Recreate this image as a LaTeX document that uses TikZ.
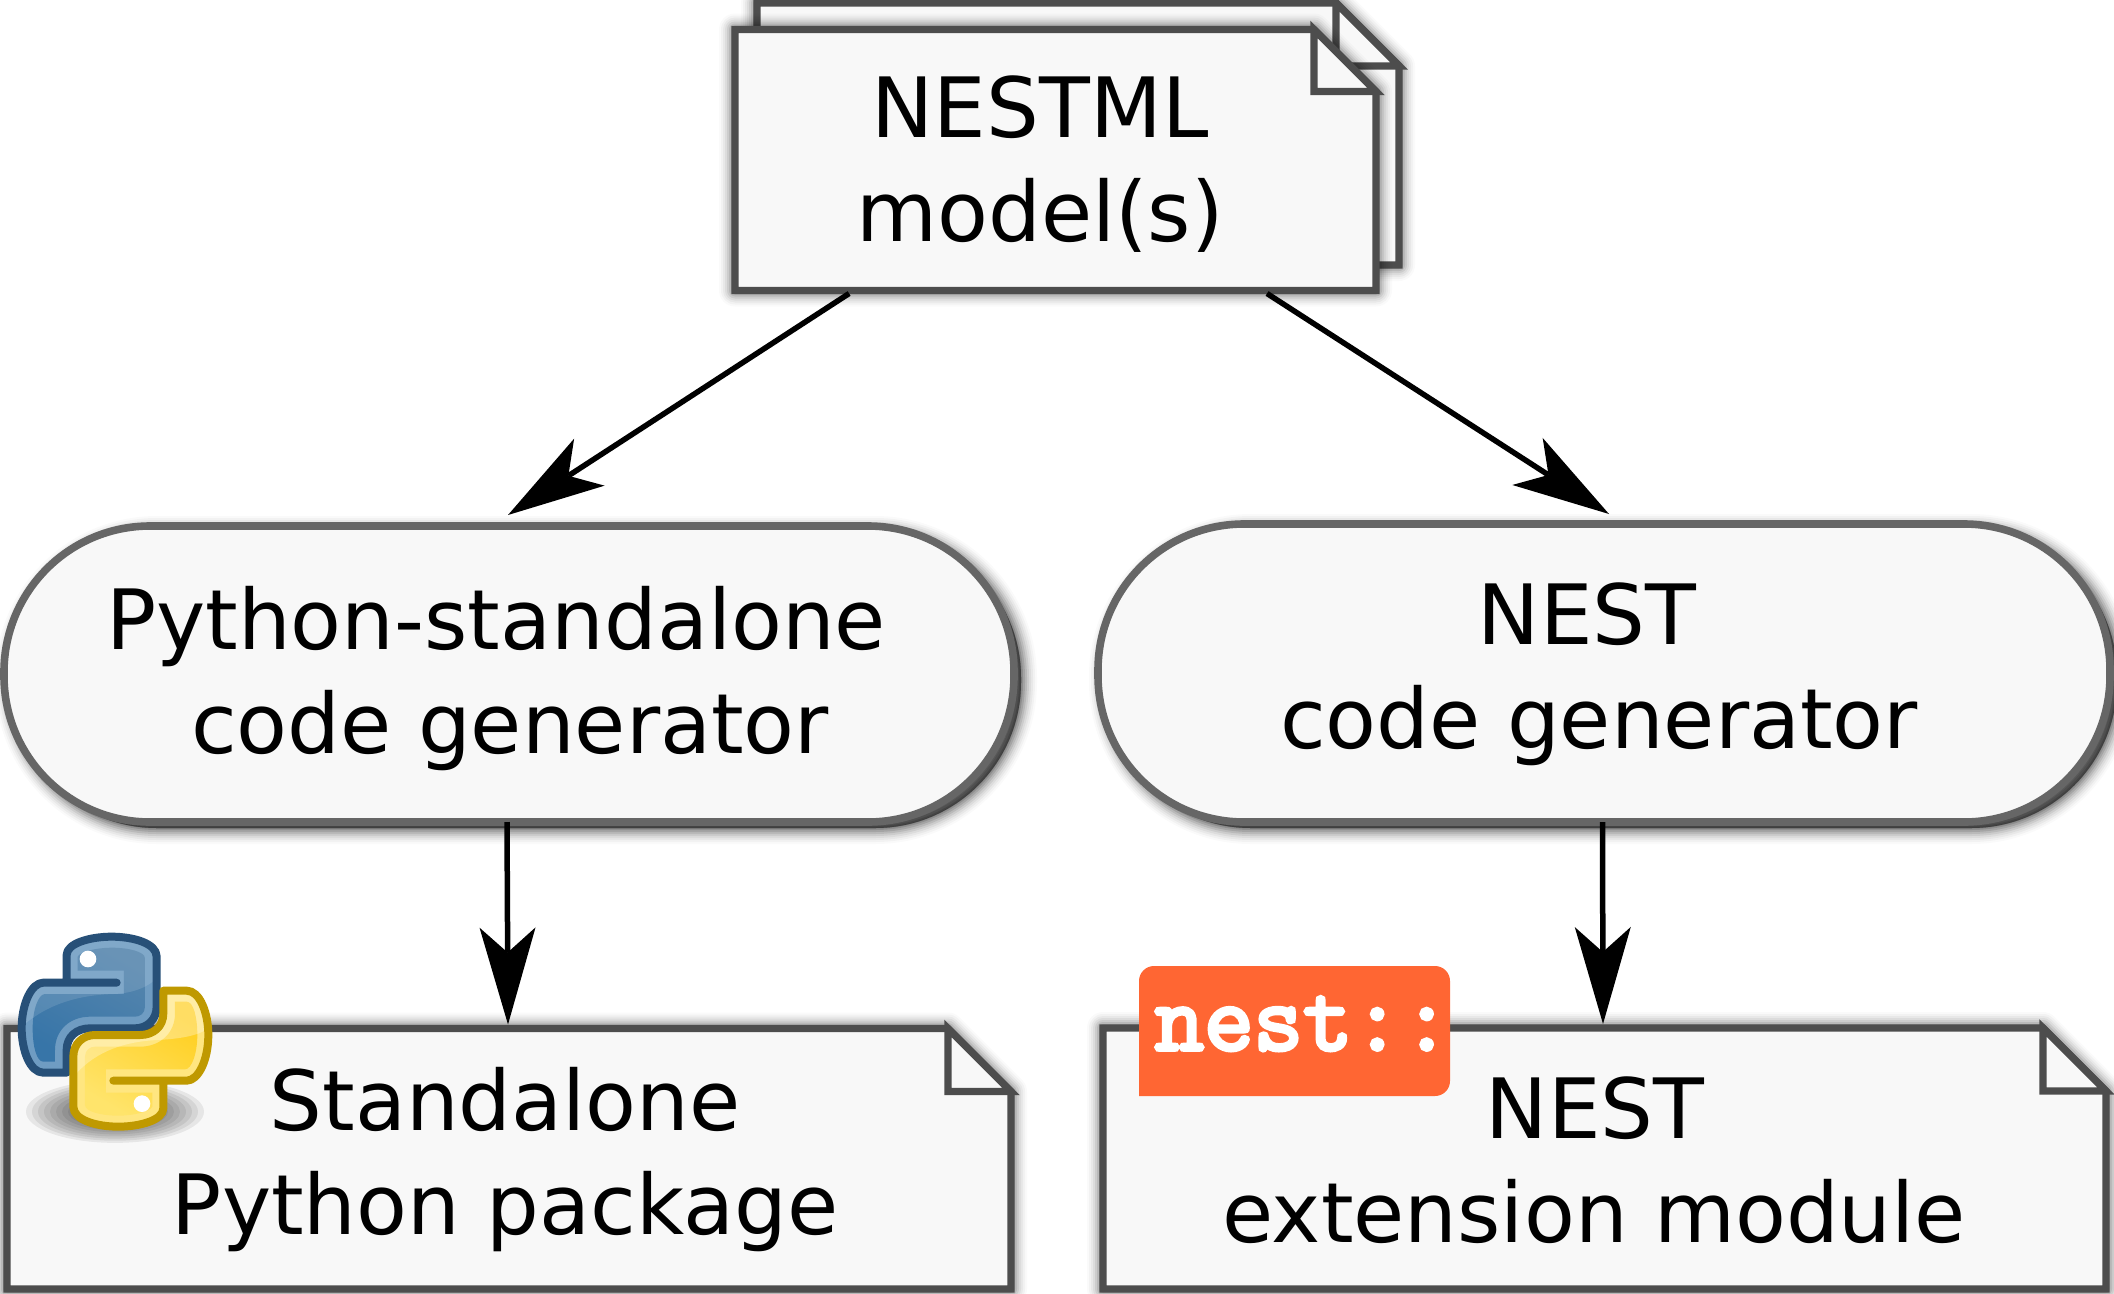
\documentclass[tikz,border=0pt]{standalone}
\usepackage{fontspec}
\setmainfont{DejaVu Sans}
\newfontfamily\logofont[FakeBold=4]{Latin Modern Mono}
\usetikzlibrary{arrows.meta,calc}
\definecolor{docfill}{HTML}{F8F8F8}
\definecolor{docline}{HTML}{4D4D4D}
\definecolor{pillline}{HTML}{666666}
\definecolor{nestorange}{HTML}{FF6633}
\definecolor{pyblue}{HTML}{275078}
\definecolor{pybluelight}{HTML}{6F9CC2}
\definecolor{pybluea}{HTML}{5585AD}
\definecolor{pyblueb}{HTML}{3775A8}
\definecolor{pyyellow}{HTML}{BF9900}
\definecolor{pyyellowlight}{HTML}{FFE680}
\definecolor{pyyellowa}{HTML}{FFE46B}
\definecolor{pyyellowb}{HTML}{FFCF20}
\tikzset{
  slot/.style={inner sep=0pt,outer sep=0pt},
  lbl/.style={inner sep=0pt,anchor=base,font=\fontsize{83.2}{98}\selectfont,text=black},
  docpath/.style={draw=docline,fill=docfill,line width=7.4pt,line join=miter},
  flow/.style={line width=5.5pt,draw=black,-{Stealth[length=97pt,width=56pt,inset=25pt,line width=0pt]}},
  pillnode/.style={draw=pillline,fill=docfill,line width=7.6pt,inner sep=0pt,outer sep=0pt,rounded corners=146pt},
  softpiece/.style={fill=black,draw=black,line join=round},
}
% soft shadow: stacked translucent outlines, fainter further out
\newcommand{\softshadow}[1]{%
  \foreach \w/\a in {32/.02,28/.03,24/.04,20/.05,16/.07,12/.09,8/.11,4/.13,1/.13}{%
    \path[softpiece,fill opacity=\a,draw opacity=\a,line width=\w pt,shift={(7,6)}] #1;%
  }%
}
% document with dog-ear, drawn on a named slot
\newcommand{\docpage}[2]{%
  \softshadow{(#1.north west) -- ($(#1.north east)+(-#2,0)$) -- ($(#1.north east)+(0,#2)$) -- (#1.south east) -- (#1.south west) -- cycle}
  \draw[docpath] (#1.north west) -- ($(#1.north east)+(-#2,0)$) -- ($(#1.north east)+(0,#2)$) -- (#1.south east) -- (#1.south west) -- cycle;
  \draw[docpath] ($(#1.north east)+(-#2,0)$) -- ($(#1.north east)+(-#2,#2)$) -- ($(#1.north east)+(0,#2)$) -- cycle;
}
\newcommand{\snakeouter}{(200,248) -- (200,165) .. controls (200,130) and (270,110) .. (335,110) .. controls (400,110) and (470,130) .. (470,170) -- (470,320) .. controls (470,360) and (440,385) .. (405,385) -- (270,385) .. controls (230,385) and (200,410) .. (200,450) -- (200,518) -- (130,518) .. controls (90,518) and (65,450) .. (65,385) .. controls (65,310) and (95,248) .. (130,248) -- (350,248) -- cycle}
\newcommand{\snakeinner}{(233,212) -- (233,170) .. controls (240,155) and (290,143) .. (335,143) .. controls (385,143) and (435,155) .. (435,175) -- (435,320) .. controls (435,340) and (420,350) .. (405,350) -- (270,350) .. controls (210,350) and (165,390) .. (165,450) -- (165,485) -- (130,485) .. controls (110,485) and (98,440) .. (98,385) .. controls (98,330) and (115,282) .. (135,282) -- (372,282) -- (372,212) -- cycle}
\begin{document}
\begin{tikzpicture}[x=1pt,y=-1pt]
\useasboundingbox (0,0) rectangle (2114,1293);
\fill[white] (0,0) rectangle (2114,1293);

% slots
\node[slot,minimum width=642pt,minimum height=262pt] (back) at (1078,134) {};
\node[slot,minimum width=641pt,minimum height=261pt] (front) at (1055.5,160) {};
\node[slot,minimum width=1004pt,minimum height=260.5pt] (pkg) at (509,1158.75) {};
\node[slot,minimum width=1003pt,minimum height=261pt] (ext) at (1604.5,1158.5) {};

\docpage{back}{63}
\docpage{front}{62}

% code generators
\softshadow{[rounded corners=146pt] (4,526) rectangle (1014,822)}
\softshadow{[rounded corners=146pt] (1098,524) rectangle (2110,822)}
\node[pillnode,minimum width=1010pt,minimum height=296pt] (pygen) at (509,674) {};
\node[pillnode,minimum width=1012pt,minimum height=298pt] (nestgen) at (1604,673) {};

\docpage{pkg}{63}
\docpage{ext}{63}

% connectors
\draw[flow] ($(front.south west)!.178!(front.south east)+(0,3)$) -- ($(pygen.north)+(-1,-11)$);
\draw[flow] ($(front.south west)!.83!(front.south east)+(0,3)$) -- ($(nestgen.north)+(5,-10)$);
\draw[flow] ($(pygen.south)+(-2,0)$) -- ($(pkg.north)+(-1,-4)$);
\draw[flow] ($(nestgen.south)+(-1.5,0)$) -- ($(ext.north)+(-1.5,-4)$);

% labels
\node[lbl] (t1) at (1040,137) {NESTML};
\node[lbl] (t2) at (1040,241) {model(s)};
\node[lbl] (t3) at (496,649) {Python-standalone};
\node[lbl] (t4) at (510,753) {code generator};
\node[lbl] (t5) at (1587,644) {NEST};
\node[lbl] (t6) at (1599,748) {code generator};
\node[lbl] (t7) at (505,1130) {Standalone};
\node[lbl] (t8) at (505,1234) {Python package};
\node[lbl] (t9) at (1595,1138) {NEST};
\node[lbl] (t10) at (1594,1242) {extension module};

% nest:: logo
\fill[nestorange] (1139,1096) [rounded corners=15pt] -- (1139,966) -- (1450,966) -- (1450,1096) [sharp corners] -- cycle;
\node[inner sep=0pt,anchor=base,text=white,font=\logofont\fontsize{96}{100}\selectfont] (nestlogo) at (1303,1050) {nest::};

% python logo
\begin{scope}[shift={(0,900)},x=.33333pt,y=-.33333pt]
  \foreach \k in {1,...,14}{
    \fill[black,opacity=.07] (345,635) ellipse[x radius={285-\k*18},y radius={100-\k*6.4}];
  }
  % blue
  \fill[pybluelight] \snakeouter;
  \shade[top color=pybluea,bottom color=pyblueb,shading angle=-30] \snakeinner;
  \begin{scope}
    \clip \snakeouter;
    \fill[white,opacity=.12] (60,385) .. controls (140,310) and (240,285) .. (340,282) .. controls (400,280) and (450,260) .. (480,225) -- (480,100) -- (60,100) -- cycle;
  \end{scope}
  \draw[pyblue,line width=8pt,line join=round] \snakeouter;
  \fill[white] (264,177) circle[radius=25];
  % yellow
  \begin{scope}[rotate around={180:(345,395)}]
    \fill[pyyellowlight] \snakeouter;
    \shade[top color=pyyellowb,bottom color=pyyellowa,shading angle=-30] \snakeinner;
  \end{scope}
  \begin{scope}
    \begin{scope}[rotate around={180:(345,395)}]
      \clip \snakeouter;
      \begin{scope}[rotate around={180:(345,395)}]
        \fill[white,opacity=.3] (225,525) .. controls (290,450) and (380,425) .. (470,420) .. controls (530,417) and (590,410) .. (625,385) -- (625,250) -- (225,250) -- cycle;
      \end{scope}
    \end{scope}
  \end{scope}
  \begin{scope}[rotate around={180:(345,395)}]
    \draw[pyyellow,line width=8pt,line join=round] \snakeouter;
  \end{scope}
  \fill[white] (426,611) circle[radius=25];
\end{scope}
\end{tikzpicture}
\end{document}
